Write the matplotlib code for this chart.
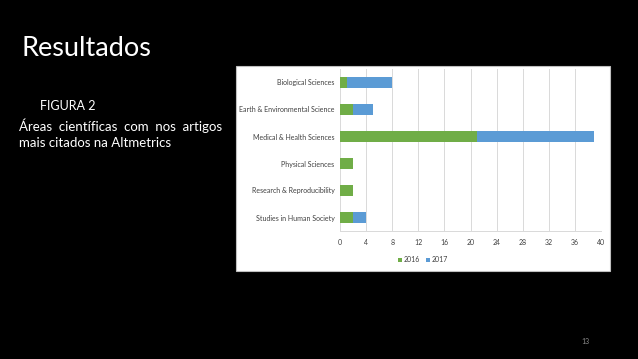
import matplotlib.pyplot as plt
from matplotlib.patches import Rectangle

categories = [
    "Biological Sciences",
    "Earth & Environmental Science",
    "Medical & Health Sciences",
    "Physical Sciences",
    "Research & Reproducibility",
    "Studies in Human Society",
]
values_2016 = [1, 2, 21, 2, 2, 2]
values_2017 = [7, 3, 18, 0, 0, 2]
x_ticks = [0, 4, 8, 12, 16, 20, 24, 28, 32, 36, 40]

GREEN = "#70AD47"
BLUE = "#5B9BD5"

plt.rcParams["font.family"] = ["Lato", "DejaVu Sans"]

fig = plt.figure(figsize=(6.38, 3.59), dpi=100, facecolor="black")

W, H = 638, 359

# white chart frame (behind the axes)
fig.patches.append(Rectangle((236 / W, 1 - 271 / H), (610 - 236) / W, (271 - 66) / H,
                             transform=fig.transFigure, facecolor="white",
                             edgecolor="#BFBFBF", linewidth=0.8, zorder=-1))

# slide texts
fig.text(22 / W, 1 - 48 / H, "Resultados", color="white", fontsize=19.5, va="center", ha="left")
fig.text(40 / W, 1 - 106 / H, "FIGURA 2", color="white", fontsize=9, va="center", ha="left")
fig.text(19 / W, 1 - 126 / H, "Áreas  científicas  com  nos  artigos", color="white",
         fontsize=9.5, va="center", ha="left")
fig.text(19 / W, 1 - 143 / H, "mais citados na Altmetrics", color="white",
         fontsize=9.5, va="center", ha="left")
fig.text(585 / W, 1 - 342 / H, "13", color="#8C8C8C", fontsize=5, va="center", ha="center")

ax = fig.add_axes([340 / W, 1 - 231 / H, (601 - 340) / W, (231 - 69) / H], zorder=2)
ax.set_facecolor("white")

y = list(range(len(categories)))
ax.barh(y, values_2016, height=0.38, color=GREEN, label="2016", zorder=3)
ax.barh(y, values_2017, left=values_2016, height=0.38, color=BLUE, label="2017", zorder=3)

ax.set_ylim(len(categories) - 0.5, -0.5)
ax.set_yticks(y)
ax.set_yticklabels(categories, fontsize=5, color="#404040")
ax.set_xlim(0, 40)
ax.set_xticks(x_ticks)
ax.set_xticklabels([str(t) for t in x_ticks], fontsize=5, color="#404040")
ax.tick_params(axis="y", length=0, pad=4)
ax.tick_params(axis="x", length=0, pad=6)

ax.grid(axis="x", color="#D9D9D9", linewidth=0.7, zorder=0)
ax.grid(axis="y", visible=False)
for side in ["top", "right", "left"]:
    ax.spines[side].set_visible(False)
ax.spines["bottom"].set_color("#D9D9D9")
ax.spines["bottom"].set_linewidth(0.7)

fig.legend(loc="center", bbox_to_anchor=(423 / W, 1 - 260 / H), ncol=2, frameon=False,
           fontsize=5, handlelength=0.6, handleheight=0.6, handletextpad=0.3,
           columnspacing=0.8, labelcolor="#404040")

fig.savefig("out.png", dpi=100, facecolor="black")
